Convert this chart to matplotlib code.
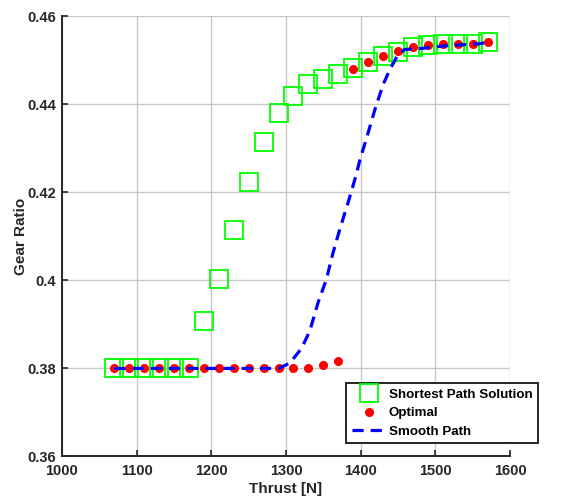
import matplotlib
matplotlib.use("Agg")
import matplotlib.pyplot as plt

plt.rcParams['font.family'] = ['Liberation Sans', 'DejaVu Sans']

# Shortest path solution (green squares)
sp_thrust = [1070, 1090, 1110, 1130, 1150, 1170, 1190, 1210, 1230, 1250, 1270,
             1290, 1310, 1330, 1350, 1370, 1390, 1410, 1430, 1450, 1470, 1490,
             1510, 1530, 1550, 1570]
sp_ratio = [0.3799, 0.3799, 0.3799, 0.3799, 0.3799, 0.3799, 0.3906, 0.4002,
            0.4113, 0.4222, 0.4314, 0.4379, 0.4419, 0.4445, 0.4457, 0.4468,
            0.4481, 0.4495, 0.4508, 0.4519, 0.4530, 0.4534, 0.4537, 0.4536,
            0.4537, 0.4541]

# Optimal solution (red dots)
opt_thrust = [1070, 1090, 1110, 1130, 1150, 1170, 1190, 1210, 1230, 1250, 1270,
              1290, 1310, 1330, 1350, 1370, 1390, 1410, 1430, 1450, 1470, 1490,
              1510, 1530, 1550, 1570]
opt_ratio = [0.3799, 0.3799, 0.3799, 0.3799, 0.3799, 0.3799, 0.3799, 0.3799,
             0.3799, 0.3799, 0.3799, 0.3799, 0.3800, 0.3801, 0.3807, 0.3817,
             0.4480, 0.4495, 0.4508, 0.4521, 0.4530, 0.4534, 0.4537, 0.4536,
             0.4537, 0.4540]

# Smoothed path (blue dashed)
sm_thrust = [1070, 1150, 1230, 1290, 1305, 1321, 1332, 1343, 1354, 1363, 1372,
             1383, 1394, 1399, 1408, 1419, 1430, 1439, 1450, 1459, 1480, 1500,
             1520, 1540, 1560, 1570]
sm_ratio = [0.3799, 0.3799, 0.3799, 0.3799, 0.3811, 0.3845, 0.3885, 0.3949,
            0.4001, 0.4062, 0.4115, 0.4175, 0.4239, 0.4273, 0.4323, 0.4387,
            0.4444, 0.4478, 0.4512, 0.4524, 0.4526, 0.4530, 0.4533, 0.4535,
            0.4537, 0.4541]

x_ticks = [1000, 1100, 1200, 1300, 1400, 1500, 1600]
y_ticks = [0.36, 0.38, 0.40, 0.42, 0.44, 0.46]
y_tick_labels = ['0.36', '0.38', '0.4', '0.42', '0.44', '0.46']

fig = plt.figure(figsize=(5.62, 5.01), dpi=100)
ax = fig.add_axes([62 / 562, 45 / 501, 448 / 562, 440 / 501])

ax.plot(sp_thrust, sp_ratio, linestyle='none', marker='s', markersize=13,
        markerfacecolor='none', markeredgecolor='#00ff00', markeredgewidth=1.3,
        label='Shortest Path Solution', zorder=3)
ax.plot(opt_thrust, opt_ratio, linestyle='none', marker='o', markersize=5.5,
        markerfacecolor='red', markeredgecolor='red', label='Optimal', zorder=4)
ax.plot(sm_thrust, sm_ratio, color='#0000ff', linewidth=2.3, linestyle=(0, (3.5, 2.2)),
        label='Smooth Path', zorder=5)

ax.set_xlim(1000, 1600)
ax.set_ylim(0.36, 0.46)
ax.set_xticks(x_ticks)
ax.set_yticks(y_ticks)
ax.set_yticklabels(y_tick_labels)

ax.grid(True, color='#c8c8c8', linewidth=1.0)
ax.set_axisbelow(True)
for side in ('top', 'right'):
    ax.spines[side].set_visible(False)
for side in ('left', 'bottom'):
    ax.spines[side].set_linewidth(1.4)
    ax.spines[side].set_color('#262626')

ax.tick_params(direction='in', length=4, width=1.2, colors='#262626',
               labelsize=10.5)
ax.tick_params(axis='x', pad=6)
ax.tick_params(axis='y', pad=4)
for lbl in ax.get_xticklabels() + ax.get_yticklabels():
    lbl.set_fontweight('bold')

ax.set_xlabel('Thrust [N]', fontsize=11, fontweight='bold', color='#262626', labelpad=3)
ax.set_ylabel('Gear Ratio', fontsize=11, fontweight='bold', color='#262626', labelpad=0)

leg = ax.legend(loc='lower right', bbox_to_anchor=(538 / 562, (501 - 443) / 501),
                bbox_transform=fig.transFigure,
                prop={'weight': 'bold', 'size': 9.6}, fancybox=False,
                framealpha=1, edgecolor='#262626', borderpad=0.4,
                labelspacing=0.45, handlelength=2.55, handletextpad=0.25,
                borderaxespad=0)
leg.get_frame().set_linewidth(1.4)

fig.savefig('out.png', dpi=100)
